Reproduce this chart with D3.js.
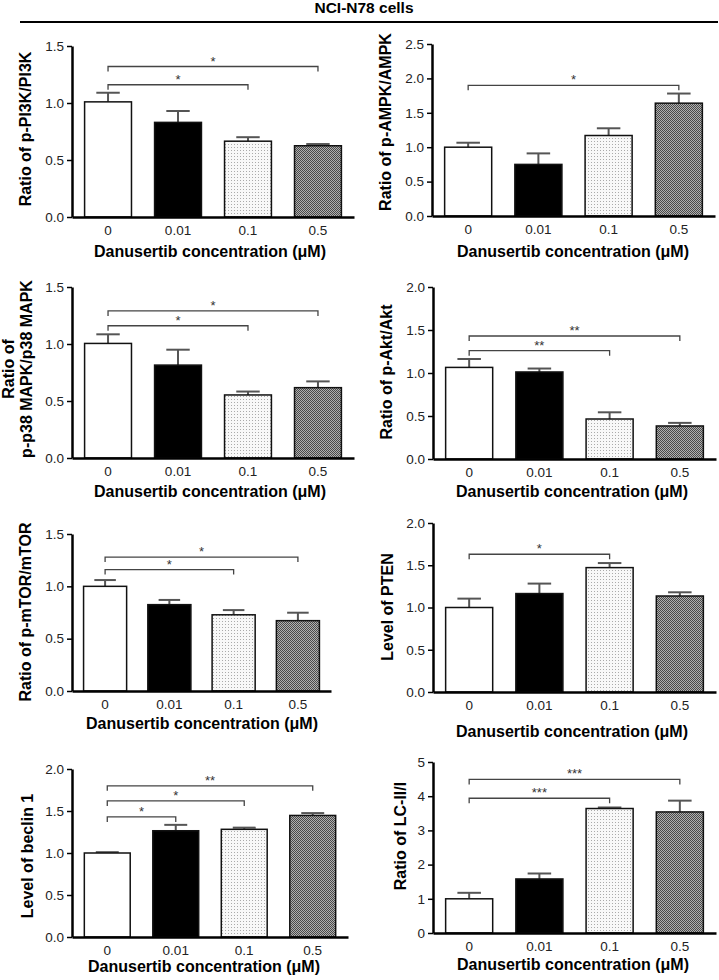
<!DOCTYPE html>
<html>
<head>
<meta charset="utf-8">
<script src="https://cdn.jsdelivr.net/npm/d3@7"></script>
<style>
    body { margin: 0; background: #fff; }
    svg { font-family: Arial, "Liberation Sans", sans-serif; }
</style>
</head>
<body>
<div class="figure"></div>
<script>
"use strict";

// Data (mean and SEM per dose)
var doses = ["0", "0.01", "0.1", "0.5"]

var pi3kMean = [1.01, 0.83, 0.665, 0.625]
var pi3kSem = [0.08, 0.10, 0.035, 0.015]

var ampkMean = [1.0, 0.75, 1.17, 1.64]
var ampkSem = [0.065, 0.16, 0.105, 0.14]

var p38Mean = [1.005, 0.815, 0.553, 0.617]
var p38Sem = [0.08, 0.135, 0.03, 0.055]

var aktMean = [1.065, 1.012, 0.465, 0.384]
var aktSem = [0.098, 0.04, 0.078, 0.036]

var mtorMean = [1.0, 0.825, 0.728, 0.672]
var mtorSem = [0.06, 0.045, 0.045, 0.076]

var ptenMean = [1.0, 1.165, 1.472, 1.136]
var ptenSem = [0.105, 0.118, 0.054, 0.044]

var beclinMean = [1.0, 1.265, 1.282, 1.447]
var beclinSem = [0.01, 0.07, 0.02, 0.028]

var lcMean = [1.0, 1.58, 3.64, 3.54]
var lcSem = [0.175, 0.16, 0.03, 0.33]

// Significance brackets (all against dose 0)
var pi3kSig = [{ to: "0.1", level: 1.16, label: "*" }, { to: "0.5", level: 1.32, label: "*" }]
var ampkSig = [{ to: "0.5", level: 1.90, label: "*" }]
var p38Sig = [{ to: "0.1", level: 1.16, label: "*" }, { to: "0.5", level: 1.29, label: "*" }]
var aktSig = [{ to: "0.1", level: 1.26, label: "**" }, { to: "0.5", level: 1.43, label: "**" }]
var mtorSig = [{ to: "0.1", level: 1.16, label: "*" }, { to: "0.5", level: 1.28, label: "*" }]
var ptenSig = [{ to: "0.1", level: 1.63, label: "*" }]
var beclinSig = [{ to: "0.01", level: 1.43, label: "*" }, { to: "0.1", level: 1.62, label: "*" },
                 { to: "0.5", level: 1.80, label: "**" }]
var lcSig = [{ to: "0.1", level: 3.94, label: "***" }, { to: "0.5", level: 4.49, label: "***" }]

// Y axis tick values per panel
var ticks15 = [0, 0.5, 1.0, 1.5]
var ticks20 = [0, 0.5, 1.0, 1.5, 2.0]
var ticks25 = [0, 0.5, 1.0, 1.5, 2.0, 2.5]
var ticks5 = [0, 1, 2, 3, 4, 5]

var xTitle = "Danusertib concentration (μM)"

var panels = [
    { label: ["Ratio of p-PI3K/PI3K"], mean: pi3kMean, sem: pi3kSem, sig: pi3kSig, ticks: ticks15, fmt: ".1f",
      x0: 72, x1: 354, yTop: 46, yBot: 217, labelX: [31], labelY: 129, titleX: 210, titleY: 257 },
    { label: ["Ratio of p-AMPK/AMPK"], mean: ampkMean, sem: ampkSem, sig: ampkSig, ticks: ticks25, fmt: ".1f",
      x0: 432, x1: 715, yTop: 44, yBot: 216, labelX: [391], labelY: 122, titleX: 573, titleY: 257 },
    { label: ["Ratio of", "p-p38 MAPK/p38 MAPK"], mean: p38Mean, sem: p38Sem, sig: p38Sig, ticks: ticks15, fmt: ".1f",
      x0: 72, x1: 354, yTop: 287, yBot: 458, labelX: [14, 32], labelY: 369, titleX: 210, titleY: 497 },
    { label: ["Ratio of p-Akt/Akt"], mean: aktMean, sem: aktSem, sig: aktSig, ticks: ticks20, fmt: ".1f",
      x0: 433, x1: 716, yTop: 287, yBot: 459, labelX: [392], labelY: 372, titleX: 572, titleY: 497 },
    { label: ["Ratio of p-mTOR/mTOR"], mean: mtorMean, sem: mtorSem, sig: mtorSig, ticks: ticks15, fmt: ".1f",
      x0: 72, x1: 331, yTop: 534, yBot: 691, labelX: [31], labelY: 612, titleX: 202, titleY: 729 },
    { label: ["Level of PTEN"], mean: ptenMean, sem: ptenSem, sig: ptenSig, ticks: ticks20, fmt: ".1f",
      x0: 433, x1: 716, yTop: 523, yBot: 692, labelX: [393], labelY: 607, titleX: 572, titleY: 737 },
    { label: ["Level of beclin 1"], mean: beclinMean, sem: beclinSem, sig: beclinSig, ticks: ticks20, fmt: ".1f",
      x0: 72, x1: 348, yTop: 769, yBot: 937, labelX: [33], labelY: 856, titleX: 204, titleY: 972 },
    { label: ["Ratio of LC-II/I"], mean: lcMean, sem: lcSem, sig: lcSig, ticks: ticks5, fmt: "d",
      x0: 433, x1: 716, yTop: 762, yBot: 933, labelX: [406], labelY: 836, titleX: 573, titleY: 970 }
]

var width = 719
var height = 980

var svg = d3.select('div.figure').append('svg')
    .attr('width', width)
    .attr('height', height)

// Fill patterns for the 0.1 (light dots) and 0.5 (dark checker) bars
var defs = svg.append('defs')
var dots = defs.append('pattern')
    .attr('id', 'dots')
    .attr('patternUnits', 'userSpaceOnUse')
    .attr('width', 3)
    .attr('height', 3)
dots.append('rect').attr('width', 3).attr('height', 3).attr('fill', '#f8f8f8')
dots.append('rect').attr('width', 1).attr('height', 1).attr('fill', '#aaaaaa')

var checker = defs.append('pattern')
    .attr('id', 'checker')
    .attr('patternUnits', 'userSpaceOnUse')
    .attr('width', 2)
    .attr('height', 2)
checker.append('rect').attr('width', 2).attr('height', 2).attr('fill', '#b0b0b0')
checker.append('rect').attr('width', 1).attr('height', 1).attr('fill', '#4a4a4a')
checker.append('rect').attr('x', 1).attr('y', 1).attr('width', 1).attr('height', 1).attr('fill', '#4a4a4a')

var barFills = ['#ffffff', '#000000', 'url(#dots)', 'url(#checker)']

// Figure header
svg.append('text')
    .text('NCI-N78 cells')
    .attr('x', 364)
    .attr('y', 13)
    .attr('text-anchor', 'middle')
    .attr('font-size', 15.5)
    .attr('font-weight', 'bold')

svg.append('line')
    .attr('x1', 20).attr('x2', 718)
    .attr('y1', 22).attr('y2', 22)
    .attr('stroke', '#000')
    .attr('stroke-width', 2)

panels.forEach(function (p) {
    drawPanel(svg, p)
})

// Draws one bar chart with error bars and significance brackets
function drawPanel(svg, p) {
    var g = svg.append('g')

    var x = d3.scaleBand()
        .domain(doses)
        .range([p.x0, p.x1])
        .paddingInner(0.33)
        .paddingOuter(0.18)

    var y = d3.scaleLinear()
        .domain([0, p.ticks[p.ticks.length - 1]])
        .range([p.yBot, p.yTop])

    var rows = doses.map(function (d, i) {
        return { dose: d, mean: p.mean[i], sem: p.sem[i], fill: barFills[i] }
    })

    // Error bars (upper whisker only), drawn first so bars cover the lower part
    g.selectAll('line.err')
        .data(rows)
        .enter()
        .append('line')
        .attr('class', 'err')
        .attr('x1', d => x(d.dose) + x.bandwidth() / 2)
        .attr('x2', d => x(d.dose) + x.bandwidth() / 2)
        .attr('y1', d => y(d.mean))
        .attr('y2', d => y(d.mean + d.sem))
        .attr('stroke', '#555')
        .attr('stroke-width', 2)

    g.selectAll('line.cap')
        .data(rows)
        .enter()
        .append('line')
        .attr('class', 'cap')
        .attr('x1', d => x(d.dose) + x.bandwidth() / 4)
        .attr('x2', d => x(d.dose) + 3 * x.bandwidth() / 4)
        .attr('y1', d => y(d.mean + d.sem))
        .attr('y2', d => y(d.mean + d.sem))
        .attr('stroke', '#555')
        .attr('stroke-width', 2)

    g.selectAll('rect.bar')
        .data(rows)
        .enter()
        .append('rect')
        .attr('class', 'bar')
        .attr('x', d => x(d.dose))
        .attr('y', d => y(d.mean))
        .attr('width', x.bandwidth())
        .attr('height', d => y(0) - y(d.mean))
        .attr('fill', d => d.fill)
        .attr('stroke', '#111')
        .attr('stroke-width', 1.5)

    // Axes
    var yAxis = g.append('g')
        .attr('transform', 'translate(' + p.x0 + ',0)')
        .call(d3.axisLeft(y).tickValues(p.ticks).tickFormat(d3.format(p.fmt)).tickSize(5).tickSizeOuter(0).tickPadding(3))
    yAxis.select('.domain').attr('stroke-width', 2.5)
    yAxis.selectAll('.tick line').attr('stroke-width', 1.5)
    yAxis.selectAll('text').attr('font-size', 13.5).attr('fill', '#222').attr('font-family', null)

    var xAxis = g.append('g')
        .attr('transform', 'translate(0,' + p.yBot + ')')
        .call(d3.axisBottom(x).tickSize(0).tickSizeOuter(0).tickPadding(8))
    xAxis.select('.domain').attr('stroke-width', 2.5)
    xAxis.selectAll('text').attr('font-size', 13.5).attr('fill', '#222').attr('font-family', null)

    // Significance brackets
    var sig = g.selectAll('g.sig')
        .data(p.sig)
        .enter()
        .append('g')
        .attr('class', 'sig')

    var xs = x("0") + x.bandwidth() / 2
    sig.append('path')
        .attr('d', function (d) {
            var xe = x(d.to) + x.bandwidth() / 2
            var yl = y(d.level)
            return 'M' + xs + ',' + (yl + 5) + 'V' + yl + 'H' + xe + 'V' + (yl + 5)
        })
        .attr('fill', 'none')
        .attr('stroke', '#444')
        .attr('stroke-width', 1.3)

    sig.append('text')
        .text(d => d.label)
        .attr('x', d => (xs + x(d.to) + x.bandwidth() / 2) / 2)
        .attr('y', d => y(d.level) - 1)
        .attr('text-anchor', 'middle')
        .attr('font-size', 13)
        .attr('fill', '#333')

    // Y label (one or two lines, rotated)
    p.label.forEach(function (line, i) {
        g.append('text')
            .text(line)
            .attr('transform', 'translate(' + p.labelX[i] + ',' + p.labelY + ') rotate(-90)')
            .attr('text-anchor', 'middle')
            .attr('font-size', 16)
            .attr('font-weight', 'bold')
    })

    // X title
    g.append('text')
        .text(xTitle)
        .attr('x', p.titleX)
        .attr('y', p.titleY)
        .attr('text-anchor', 'middle')
        .attr('font-size', 16)
        .attr('font-weight', 'bold')
}
</script>
</body>
</html>
